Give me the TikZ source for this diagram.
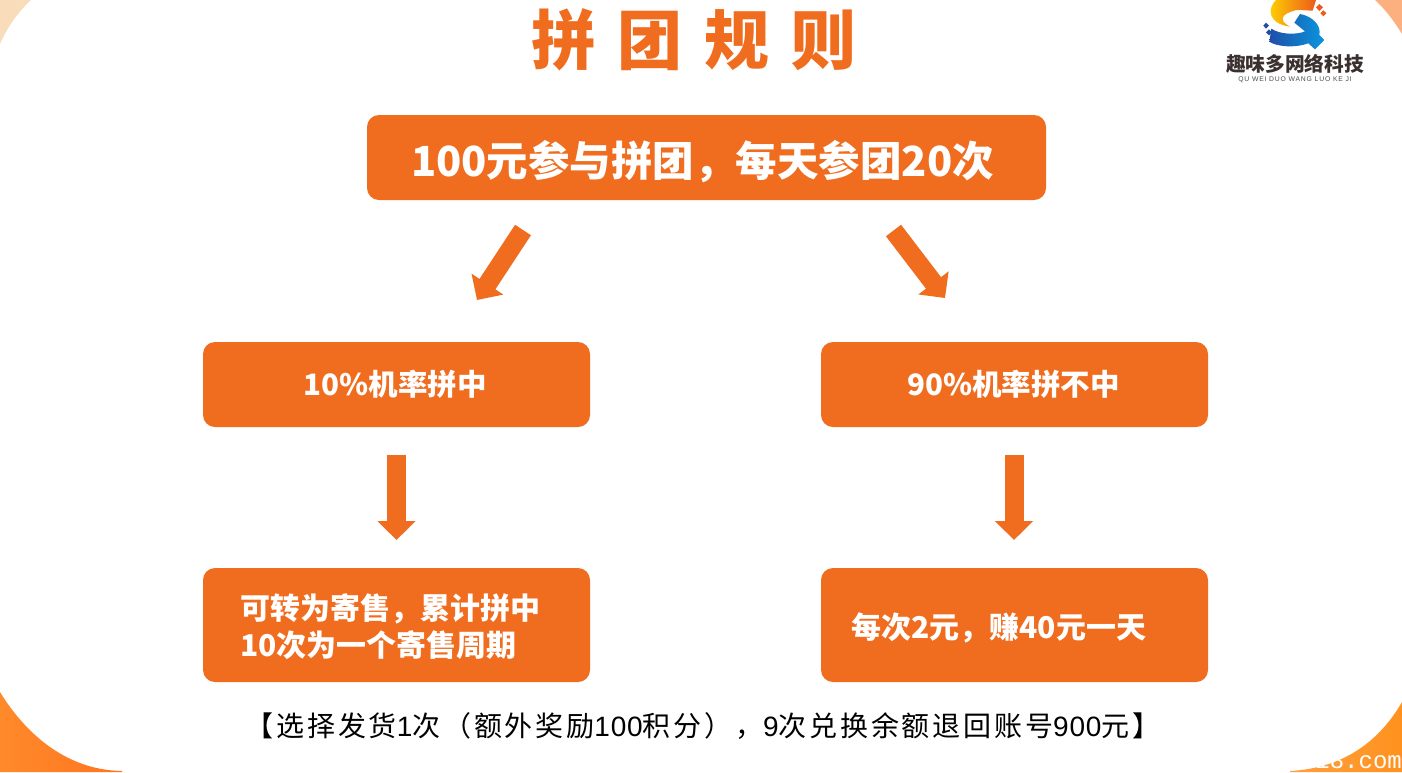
\documentclass[tikz,border=0pt]{standalone}
\usepackage{fontspec}
\usetikzlibrary{positioning}
\usetikzlibrary{arrows.meta}
\setmainfont{Noto Sans CJK SC}
\newfontfamily\footfont[LetterSpace=10]{Noto Sans CJK SC}
\newfontfamily\footnum[LetterSpace=3]{Liberation Sans}
\newfontfamily\wmfont{Liberation Mono}
\newfontfamily\subfont[LetterSpace=12]{Liberation Sans}
\definecolor{boxorange}{HTML}{F06C1E}
\definecolor{peach}{HTML}{F9DDBB}
\definecolor{salmon}{HTML}{FDB07F}
\definecolor{logoyellow}{HTML}{FFD400}
\definecolor{logored}{HTML}{EC5A1C}
\definecolor{logoblue}{HTML}{1F4FA8}
\definecolor{logosky}{HTML}{0A96DE}
\begin{document}
\begin{tikzpicture}[x=1pt, y=-1pt,
    B/.style={fill=boxorange, rounded corners=12pt, inner sep=0pt, text=white, font=\bfseries\fontsize{29.5}{37}\selectfont},
    A/.style={line width=19pt, color=boxorange, -{Triangle[width=37pt, length=19pt]}}]
    \useasboundingbox (0,0) rectangle (1402,772);
    \clip (0,0) rectangle (1402,772);
    % corners
    \fill[fill=white] (0,0) rectangle (1402,772);
    \fill[fill=peach] (0,0) -- (31,0) .. controls (17,13) and (7,28) .. (0,44) -- cycle;
    \fill[fill=salmon] (1375,0) -- (1402,0) -- (1402,34) .. controls (1394,21) and (1385,9) .. (1375,0) -- cycle;
    \shade[left color={rgb,255:red,255;green,138;blue,42}, right color={rgb,255:red,255;green,116;blue,32}] (0,692) .. controls (22,728) and (62,770) .. (122,771) -- (122,772) -- (0,772) -- cycle;
    \shade[left color={rgb,255:red,255;green,160;blue,64}, right color={rgb,255:red,255;green,146;blue,30}] (1402,702) .. controls (1380,740) and (1345,768) .. (1290,771) -- (1290,772) -- (1402,772) -- cycle;
    \node[anchor=east, inner sep=0pt, text=white, font=\wmfont\fontsize{24}{28}\selectfont] (site) at (1402,761) {18.com};
    % title
    \node[text=boxorange, inner sep=0pt, font=\bfseries\fontsize{65}{72}\selectfont] (title) at (694,40) {拼\hspace{22pt}团\hspace{22pt}规\hspace{22pt}则};
    % logo
    \begin{scope}[shift={(1180,0)}, x=0.3333pt, y=-0.3333pt]
        \shade[left color=logoyellow, right color=logored] (288,0) .. controls (262,25) and (262,70) .. (330,80) .. controls (296,62) and (300,42) .. (350,30) -- (398,32) -- (408,0) -- cycle;
        \shade[left color=logoblue, right color=logosky] (274,86) .. controls (300,104) and (350,105) .. (375,94) -- (343,68) -- (360,42) .. controls (395,48) and (425,75) .. (418,105) -- (433,120) -- (405,148) -- (385,130) .. controls (345,145) and (290,140) .. (268,125) -- cycle;
        \fill[fill=logoblue] (258,68) -- (267,77) -- (258,86) -- (250,77) -- cycle;
        \fill[fill=logoblue] (267,88) -- (276,97) -- (267,106) -- (258,97) -- cycle;
        \fill[fill=logored] (418,12) -- (429,22) -- (418,33) -- (408,22) -- cycle;
        \fill[fill=logored] (430,31) -- (439,40) -- (430,49) -- (421,40) -- cycle;
    \end{scope}
    \node[text={rgb,255:red,58;green,48;blue,48}, inner sep=0pt, font=\bfseries\fontsize{19.7}{22}\selectfont] (logotext) at (1295,64) {趣味多网络科技};
    \node[below=3pt of logotext, text=black!70, inner sep=0pt, font=\subfont\fontsize{6.8}{8}\selectfont] (logosub) {QU WEI DUO WANG LUO KE JI};
    % boxes
    \node[B, minimum width=679pt, minimum height=85pt] (join) at (706.5,157.5) {};
    \node[text=white, inner sep=0pt, font=\bfseries\fontsize{41.5}{50}\selectfont] (jointext) at (702.5,162) {100元参与拼团，每天参团20次};
    \node[B, minimum width=387pt, minimum height=85pt] (hit) at (396.5,384.5) {\hspace{-3pt}10\%机率拼中};
    \node[B, minimum width=387pt, minimum height=85pt] (miss) at (1014.5,384.5) {\hspace{-2pt}90\%机率拼不中};
    \node[B, minimum width=387pt, minimum height=114pt] (sell) at (396.5,625) {};
    \node[B, fill=none, anchor=west, align=left, font=\bfseries\fontsize{30}{37}\selectfont] (selltext) at (240,626.5) {可转为寄售，累计拼中\\10次为一个寄售周期};
    \node[B, minimum width=387pt, minimum height=114pt] (earn) at (1014.5,625) {};
    \node[B, fill=none, anchor=west, font=\bfseries\fontsize{30}{37}\selectfont] (earntext) at (851,628) {每次2元，赚40元一天};
    % footer
    \node[inner sep=0pt, text=black, font=\fontsize{28}{32}\selectfont] (note) at (703,726) {\footfont 【选择发货{\footnum 1}次（额外奖励{\footnum 100}积分），{\footnum 9}次兑换余额退回账号{\footnum 900}元】};
    % arrows
    \coordinate (a_1) at (523,230);
    \coordinate (b_1) at (477,300);
    \coordinate (a_2) at (893.5,230.5);
    \coordinate (b_2) at (945,298);
    \coordinate (a_3) at (396.5,455);
    \coordinate (b_3) at (396.5,540);
    \coordinate (a_4) at (1014,455);
    \coordinate (b_4) at (1014,540);
    \draw[A] (a_1) -- (b_1);
    \draw[A] (a_2) -- (b_2);
    \draw[A] (a_3) -- (b_3);
    \draw[A] (a_4) -- (b_4);
\end{tikzpicture}
\end{document}
